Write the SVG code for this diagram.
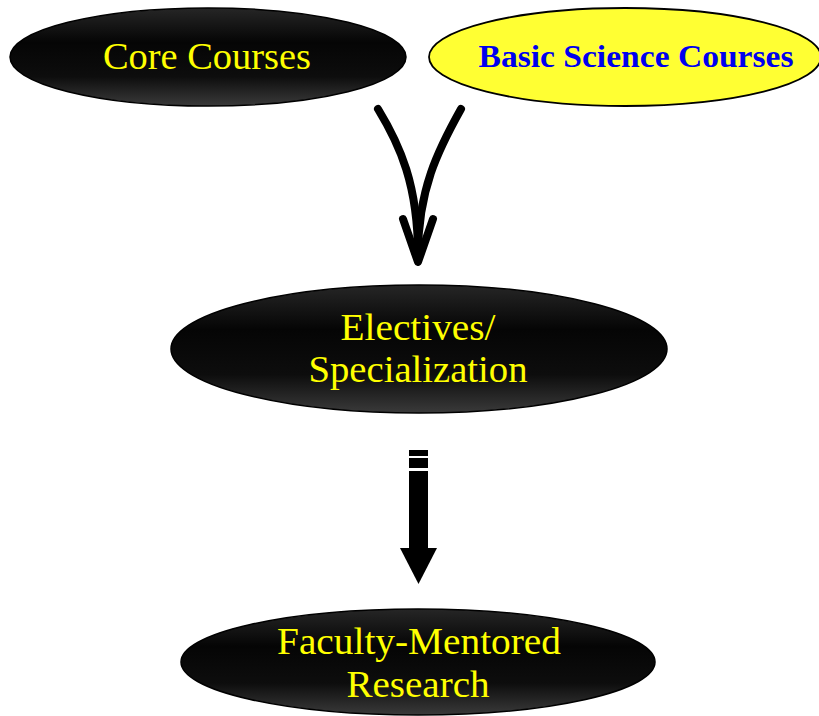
<svg xmlns="http://www.w3.org/2000/svg" width="819" height="716" viewBox="0 0 819 716">
<defs>
<linearGradient id="dark" x1="0" y1="0" x2="0" y2="1">
<stop offset="0" stop-color="#262626"/>
<stop offset="0.35" stop-color="#050505"/>
<stop offset="0.7" stop-color="#0d0d0d"/>
<stop offset="1" stop-color="#3a3a3a"/>
</linearGradient>
</defs>
<style>
.dk{fill:url(#dark);stroke:#000;stroke-width:1.5}
.yl{fill:#ffff33;stroke:#000;stroke-width:1.8}
.t{font-family:"Liberation Serif","DejaVu Serif",serif;fill:#ffff00;font-size:37px;text-anchor:middle}
.tb{font-family:"Liberation Serif","DejaVu Serif",serif;fill:#0000ee;font-size:31px;font-weight:bold;text-anchor:middle}
.conn{fill:none;stroke:#000;stroke-width:8;stroke-linecap:round;stroke-linejoin:round}
</style>
<g id="core">
<ellipse class="dk" cx="208" cy="57" rx="198" ry="49"/>
<text class="t" x="207" y="69" textLength="208" lengthAdjust="spacingAndGlyphs">Core Courses</text>
</g>
<g id="basic">
<ellipse class="yl" cx="625" cy="57" rx="196" ry="49"/>
<text class="tb" x="636" y="67" textLength="315" lengthAdjust="spacingAndGlyphs">Basic Science Courses</text>
</g>
<g id="electives">
<ellipse class="dk" cx="419" cy="349" rx="248" ry="64"/>
<text class="t" x="418" y="340" textLength="155" lengthAdjust="spacingAndGlyphs">Electives/</text>
<text class="t" x="418" y="382" textLength="219" lengthAdjust="spacingAndGlyphs">Specialization</text>
</g>
<g id="research">
<ellipse class="dk" cx="418" cy="662" rx="237" ry="53"/>
<text class="t" x="419" y="654" textLength="284" lengthAdjust="spacingAndGlyphs">Faculty-Mentored</text>
<text class="t" x="418" y="697" textLength="143" lengthAdjust="spacingAndGlyphs">Research</text>
</g>
<g id="connectors">
<path class="conn" d="M378,109 C400,145 418,185 418,255"/>
<path class="conn" d="M461,109 C438,150 418,190 418,255"/>
<path class="conn" d="M403,219 L418,262 L433,219"/>
<rect x="409" y="450" width="19" height="6" fill="#000"/>
<rect x="409" y="458" width="19" height="10" fill="#000"/>
<rect x="409" y="471" width="19" height="78" fill="#000"/>
<polygon points="400,548 437,548 418.5,584" fill="#000"/>
</g>
</svg>
